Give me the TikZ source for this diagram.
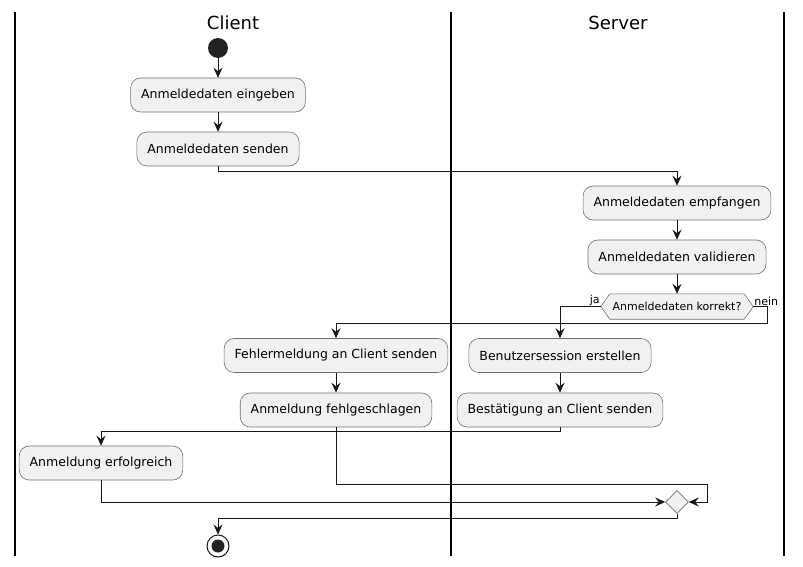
\documentclass[tikz,border=0pt]{standalone}
\usepackage{fontspec}
\setmainfont{DejaVu Sans}
\usetikzlibrary{arrows.meta,shapes.geometric,backgrounds}
\definecolor{boxfill}{HTML}{F1F1F1}
\definecolor{ln}{HTML}{181818}
\definecolor{bord}{HTML}{707070}
\definecolor{dot}{HTML}{222222}
\begin{document}
\begin{tikzpicture}[x=1pt,y=-1pt,
  act/.style={draw=bord, line width=0.6pt, fill=boxfill, rounded corners=10pt,
    minimum height=34pt, inner xsep=10.5pt, inner ysep=0pt, font=\fontsize{12.5}{14}\selectfont},
  flow/.style={draw=ln, line width=1pt, -{Stealth[length=10pt,width=9pt,inset=3.5pt]}},
  lane/.style={line width=1.5pt, draw=black},
  lanetitle/.style={font=\fontsize{18}{20}\selectfont},
  small/.style={font=\fontsize{11}{13}\selectfont}]
\useasboundingbox (0,0) rectangle (803,567);
% swimlanes
\draw[lane] (15,12) -- (15,556);
\draw[lane] (451,12) -- (451,556);
\draw[lane] (784,12) -- (784,556);
\node[lanetitle] (tc) at (233,23) {Client};
\node[lanetitle] (ts) at (618,23) {Server};
% nodes
\node[circle, fill=dot, minimum size=20pt, inner sep=0pt] (start) at (218,48) {};
\node[act] (eing) at (218,95) {Anmeldedaten eingeben};
\node[act] (send) at (218,149) {Anmeldedaten senden};
\node[act] (recv) at (677,203) {Anmeldedaten empfangen};
\node[act] (val) at (677,257) {Anmeldedaten validieren};
\node[small, inner sep=0pt, minimum width=152pt, minimum height=25pt] (dec) at (677,306.5) {Anmeldedaten korrekt?};
\begin{scope}[on background layer]
\draw[draw=bord, line width=0.6pt, fill=boxfill] (dec.west) -- ([xshift=9pt]dec.north west) -- ([xshift=-9pt]dec.north east) -- (dec.east) -- ([xshift=-9pt]dec.south east) -- ([xshift=9pt]dec.south west) -- cycle;
\end{scope}
\node[small, anchor=south east, inner sep=1pt] (ja) at (dec.west) {ja};
\node[small, anchor=south west, inner sep=1pt] (nein) at (dec.east) {nein};
\node[act] (sess) at (560,355.5) {Benutzersession erstellen};
\node[act] (best) at (560,410) {Bestätigung an Client senden};
\node[act] (fehl) at (336,355.5) {Fehlermeldung an Client senden};
\node[act] (fehlg) at (336,410) {Anmeldung fehlgeschlagen};
\node[act] (erf) at (101,463) {Anmeldung erfolgreich};
\node[diamond, draw=bord, line width=0.6pt, fill=boxfill, minimum size=23pt, inner sep=0pt] (merge) at (677,502) {};
\node[circle, draw=ln, line width=1pt, fill=white, minimum size=22pt, inner sep=0pt] (stop) at (218,546) {};
\node[circle, fill=dot, minimum size=13pt, inner sep=0pt] (stopin) at (stop) {};
\coordinate (fl) at (707,484);
% connectors
\draw[flow] (start) -- (eing);
\draw[flow] (eing) -- (send);
\draw[flow] (send.south) -- ++(0,5) -| (recv.north);
\draw[flow] (recv) -- (val);
\draw[flow] (val) -- (dec.north);
\draw[flow] (dec.west) -| (sess.north);
\draw[flow] (dec.east) -- ++(14,0) -- ++(0,16.5) -| (fehl.north);
\draw[flow] (sess) -- (best);
\draw[flow] (fehl) -- (fehlg);
\draw[flow] (best.south) -- ++(0,4) -| (erf.north);
\draw[flow] (erf.south) |- (merge.west);
\draw[flow] (fehlg.south) |- (fl) |- (merge.east);
\draw[flow] (merge.south) -- ++(0,5) -| (stop.north);
\end{tikzpicture}
\end{document}
